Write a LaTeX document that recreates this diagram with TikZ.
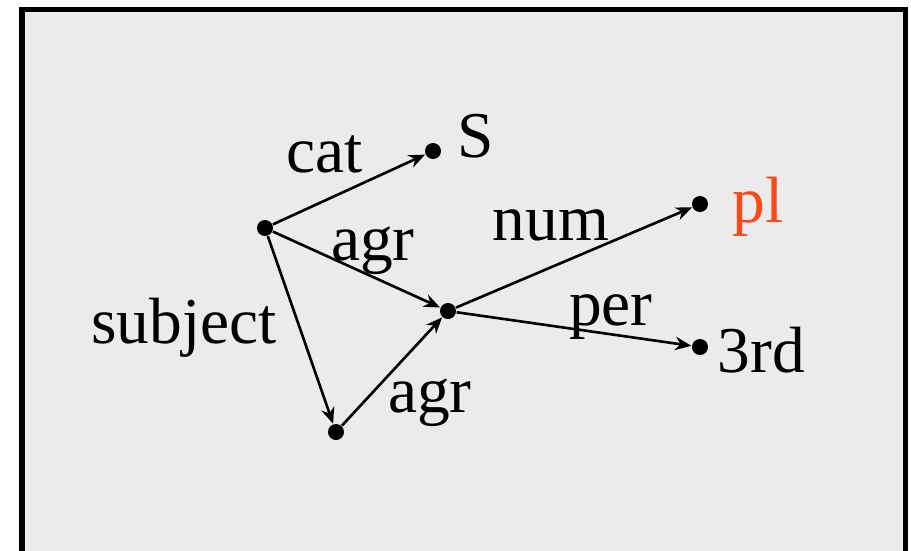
\documentclass[tikz,border=0pt]{standalone}
\usepackage{fontspec}
\setmainfont{Liberation Serif}
\usetikzlibrary{arrows.meta}
\definecolor{plred}{RGB}{250,72,22}
\definecolor{panelgray}{RGB}{235,235,235}

\begin{document}
\begin{tikzpicture}[x=0.01cm, y=-0.01cm,
    featdot/.style={circle, fill=black, inner sep=0pt, minimum size=0.16cm},
    arc/.style={line width=0.75pt, -{Stealth[length=4.6pt, width=3.8pt]}},
    lab/.style={anchor=base, inner sep=0pt, font=\fontsize{18.6}{22}\selectfont}]
    \useasboundingbox (0,0) rectangle (911,550);
    \filldraw[fill=panelgray, draw=black, line width=1.6pt] (22,9.5) rectangle (905.5,580);

        % feature structure nodes
        \node[featdot] (root) at (265,228) {};
        \node[featdot] (cat) at (433,151) {};
        \node[featdot] (agr) at (448,311) {};
        \node[featdot] (num) at (700,204) {};
        \node[featdot] (per) at (700,347) {};
        \node[featdot] (subj) at (336,432) {};

        % values
        \node[lab, anchor=base west] (sval) at (457,157) {S};
        \node[lab, anchor=base west, text=plred] (plval) at (732,222) {pl};
        \node[lab, anchor=base west] (perval) at (717,372) {3rd};

        % arcs
        \draw[arc] (root) -- (cat);
        \draw[arc] (root) -- (agr);
        \draw[arc] (root) -- (subj);
        \draw[arc] (subj) -- (agr);
        \draw[arc] (agr) -- (num);
        \draw[arc] (agr) -- (per);

        % arc labels
        \node[lab] (catlab) at (325,172) {cat};
        \node[lab] (agrlab) at (373,260) {agr};
        \node[lab] (subjlab) at (184,343) {subject};
        \node[lab] (agrlabb) at (430,412) {agr};
        \node[lab] (numlab) at (551,240) {num};
        \node[lab] (perlab) at (611,325) {per};
\end{tikzpicture}
\end{document}
